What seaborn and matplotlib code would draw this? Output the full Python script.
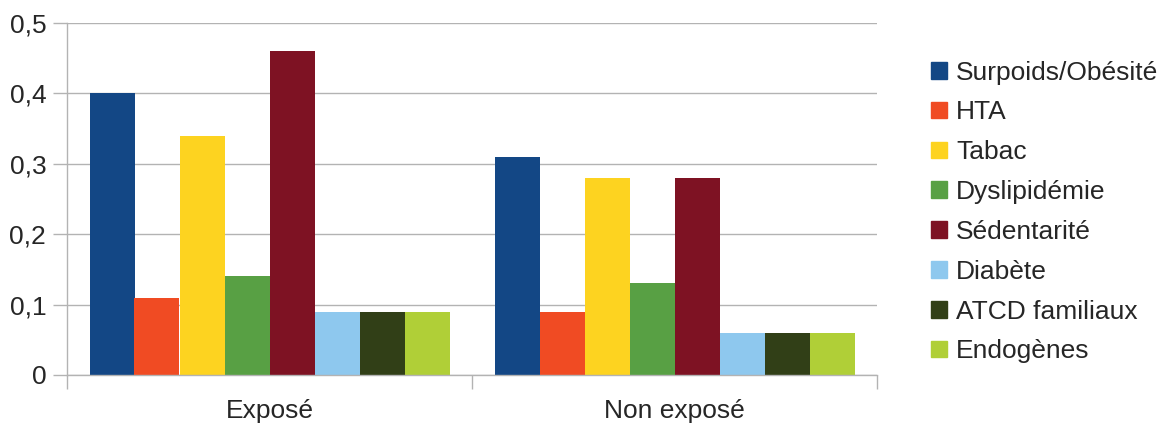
import pandas as pd
import matplotlib.pyplot as plt
import seaborn as sns

groups = ["Exposé", "Non exposé"]
factors = ["Surpoids/Obésité", "HTA", "Tabac", "Dyslipidémie", "Sédentarité",
           "Diabète", "ATCD familiaux", "Endogènes"]
expose = [0.40, 0.11, 0.34, 0.14, 0.46, 0.09, 0.09, 0.09]
non_expose = [0.31, 0.09, 0.28, 0.13, 0.28, 0.06, 0.06, 0.06]
colors = ["#134785", "#f04b23", "#fdd320", "#58a044", "#7e1223",
          "#8ec8ee", "#313f17", "#b0cf37"]
yticks = [0, 0.1, 0.2, 0.3, 0.4, 0.5]
ytick_labels = ["0", "0,1", "0,2", "0,3", "0,4", "0,5"]

rows = []
for g, vals in zip(groups, [expose, non_expose]):
    for f, v in zip(factors, vals):
        rows.append({"Groupe": g, "Facteur": f, "Valeur": v})
df = pd.DataFrame(rows)

sns.set_style("white")
plt.rcParams['font.family'] = ['Liberation Sans', 'DejaVu Sans']

fig = plt.figure(figsize=(11.59, 4.23), dpi=100)
ax = fig.add_axes([67 / 1159, 1 - 375 / 423, 810 / 1159, 352 / 423])

sns.barplot(data=df, x="Groupe", y="Valeur", hue="Facteur", hue_order=factors,
            palette=colors, width=8 / 9, saturation=1, linewidth=0,
            ax=ax, legend=False)

fs = 19
grid_col = "#b3b3b3"
ax.set_ylim(0, 0.5)
ax.set_xlim(-0.5, 1.5)
ax.set_yticks(yticks)
ax.set_yticklabels(ytick_labels, fontsize=fs)
ax.yaxis.grid(True, color=grid_col, linewidth=1)
ax.set_axisbelow(True)
for s in ["top", "right"]:
    ax.spines[s].set_visible(False)
for s in ["left", "bottom"]:
    ax.spines[s].set_color(grid_col)
    ax.spines[s].set_linewidth(1)
ax.tick_params(axis="y", left=True, length=10, color=grid_col, width=1, pad=5)

# category labels plus boundary ticks
ax.set_xticks([0, 1])
ax.set_xticklabels(groups, fontsize=fs)
ax.set_xticks([-0.5, 0.5, 1.5], minor=True)
ax.tick_params(axis="x", which="major", bottom=False, length=0, pad=17)
ax.tick_params(axis="x", which="minor", bottom=True, length=10,
               color=grid_col, width=1)
ax.set_xlabel("")
ax.set_ylabel("")

handles = [plt.Rectangle((0, 0), 1, 1, color=c) for c in colors]
fig.legend(handles, factors, loc="center left",
           bbox_to_anchor=(931 / 1159, 1 - 212 / 423), frameon=False,
           fontsize=fs, handlelength=0.6, handleheight=0.6,
           handletextpad=0.35, labelspacing=0.6, borderpad=0, borderaxespad=0)

fig.savefig("out.png", dpi=100)
